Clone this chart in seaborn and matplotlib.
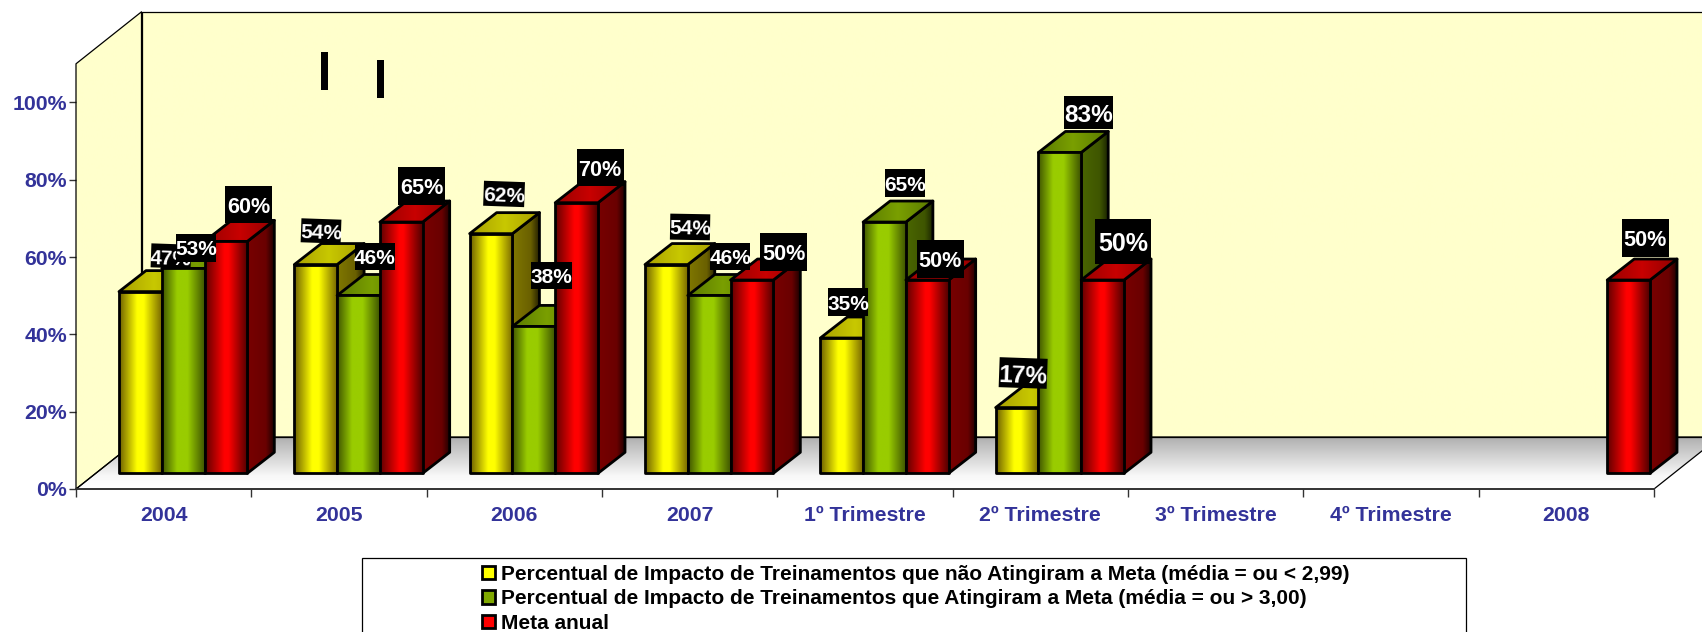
import numpy as np
import pandas as pd
import seaborn as sns
import matplotlib
matplotlib.use("Agg")
import matplotlib.pyplot as plt
from matplotlib.patches import Polygon, Rectangle, Patch
from matplotlib.transforms import Affine2D, IdentityTransform

# ---- data ----
CATEGORIES = ['2004', '2005', '2006', '2007', '1º Trimestre', '2º Trimestre',
              '3º Trimestre', '4º Trimestre', '2008']
NAO_ATINGIRAM = [47, 54, 62, 54, 35, 17, np.nan, np.nan, np.nan]
ATINGIRAM = [53, 46, 38, 46, 65, 83, np.nan, np.nan, np.nan]
META = [60, 65, 70, 50, 50, 50, np.nan, np.nan, 50]
SERIES = ['Percentual de Impacto de Treinamentos que não Atingiram a Meta (média = ou < 2,99)',
          'Percentual de Impacto de Treinamentos que Atingiram a Meta (média = ou > 3,00)',
          'Meta anual']
Y_TICKS = [0, 20, 40, 60, 80, 100]

# ---- look of the bars: (position, colour) stops across each face ----
FRONT = [[(0, '#6e6000'), (.42, '#ffff00'), (.58, '#ffff00'), (1, '#7a6a00')],
         [(0, '#3f5500'), (.35, '#99cc00'), (.6, '#99cc00'), (1, '#3f5500')],
         [(0, '#600000'), (.45, '#ff0000'), (.55, '#ff0000'), (1, '#500000')]]
TOP = [[(0, '#a8a000'), (.5, '#c8c800'), (1, '#a8a000')],
       [(0, '#5a7a00'), (.5, '#7a9f00'), (1, '#5a7a00')],
       [(0, '#980000'), (.5, '#c80000'), (1, '#900000')]]
SIDE = [[(0, '#807800'), (.7, '#6a6000'), (1, '#2a2400')],
        [(0, '#4a6600'), (.7, '#3f5500'), (1, '#1c2600')],
        [(0, '#780000'), (.7, '#6a0000'), (1, '#200000')]]
SWATCH = ['#ffff00', '#80a800', '#ff0000']

# per label: dx, dy from bar top, box w, box h, font size, rotation (in pixels)
LABEL_STYLE = [
    [(30.6, 35.6, 40, 24, 15, -2), (12.8, 20.5, 40, 28, 15, 0), (23, 36.4, 47, 37, 15.6, 0)],
    [(5.3, 33.6, 40, 24, 15, -2), (16.5, 38.5, 40, 27, 15, 0), (20.7, 36, 47, 38, 15.6, 0)],
    [(13, 39.7, 41, 25, 15, -2), (17.2, 51.4, 41, 27, 15, 0), (23.4, 34.8, 47, 37, 15.6, 0)],
    [(23.7, 37.6, 40, 26, 15, -1), (20.9, 38.5, 40, 27, 15, 0), (32, 28, 47, 38, 15.6, 0)],
    [(6.4, 36, 40, 28, 15, 0), (20.6, 39, 40, 28, 15, 0), (12.8, 21, 47, 38, 15.6, 0)],
    [(6.1, 34.6, 48, 30, 17.6, -2), (28.3, 39.5, 49, 33, 17.6, 0), (20.5, 39, 56, 45, 18, 0)],
    [], [],
    [None, None, (16.6, 42, 47, 38, 15.6, 0)],
]

W, H = 1702, 632
BLUE = '#333399'
DEPTH = (27, 21)      # bar depth
BAR_SHIFT = (19.5, 15.7)   # bars stand a bit behind the axis plane
WALL = (65.5, 52)     # chart depth


def py(y):
    # image row -> display y
    return H - y


def gradient(stops, vertical=False):
    pos = [s[0] for s in stops]
    rgb = np.array([matplotlib.colors.to_rgb(s[1]) for s in stops])
    t = np.linspace(0, 1, 64)
    arr = np.stack([np.interp(t, pos, rgb[:, k]) for k in range(3)], axis=-1)
    return arr[:, None, :] if vertical else arr[None, :, :]


def face(ax, verts, stops, z, lw=2.0, edge='black', vertical=False):
    # polygon in display pixels filled with a gradient
    verts = np.array(verts)
    poly = Polygon(verts, closed=True, transform=IdentityTransform(), fc='none', ec=edge,
                   lw=lw, clip_on=False, zorder=z + 1, joinstyle='round')
    ax.add_patch(poly)
    im = ax.imshow(gradient(stops, vertical), origin='lower', aspect='auto', interpolation='bilinear',
                   extent=(verts[:, 0].min(), verts[:, 0].max(), verts[:, 1].min(), verts[:, 1].max()),
                   transform=IdentityTransform(), zorder=z)
    im.set_clip_box(ax.figure.bbox)
    im.set_clip_path(poly)


# ---- table for seaborn ----
df = pd.DataFrame({'cat': CATEGORIES * 3,
                   'serie': np.repeat(SERIES, len(CATEGORIES)),
                   'valor': NAO_ATINGIRAM + ATINGIRAM + META})

sns.set_theme(style='white')
plt.rcParams['font.family'] = ['Liberation Sans', 'DejaVu Sans']

fig = plt.figure(figsize=(W / 100, H / 100), dpi=100, facecolor='white')
ax = fig.add_axes([76 / W, py(489) / H, (1654 - 76) / W, (489 - 63.8) / H])
ax.patch.set_visible(False)

sns.barplot(data=df, x='cat', y='valor', hue='serie', order=CATEGORIES, hue_order=SERIES,
            width=0.732, gap=0, dodge=True, legend=False, errorbar=None, ax=ax,
            palette=SWATCH, saturation=1)

ax.set_xlim(-0.5, 8.5)
ax.set_ylim(0, 110)
ax.autoscale(False)
ax.set_xlabel('')
ax.set_ylabel('')

# ---- walls and floor ----
x0, x1 = 76, 1654
y0, ytop = py(489), py(63.8)
dx, dy = WALL
face(ax, [(x0, y0), (x0, ytop), (x0 + dx, ytop + dy), (x0 + dx, y0 + dy)],
     [(0, '#ffffcc'), (1, '#ffffcc')], 0.1, lw=0.9)
face(ax, [(x0 + dx, y0 + dy), (x0 + dx, ytop + dy), (x1 + dx, ytop + dy), (x1 + dx, y0 + dy)],
     [(0, '#ffffcc'), (1, '#ffffcc')], 0.2, lw=0.9)
face(ax, [(x0, y0), (x0 + dx, y0 + dy), (x1 + dx, y0 + dy), (x1, y0)],
     [(0, '#ffffff'), (.25, '#f8f8f8'), (1, '#b0b0b0')], 0.3, lw=0.9, vertical=True)

# ---- bars: seaborn front faces shifted back, with 3d faces added ----
shift = Affine2D().translate(*BAR_SHIFT)
bars = []
for j, cont in enumerate(ax.containers):
    for rect in cont:
        if np.isnan(rect.get_height()):
            continue
        bars.append((rect.get_x(), j, rect))
bars.sort(key=lambda b: (b[0], b[1]))

tops = {}
z = 3
for _, j, rect in bars:
    to_px = ax.transData + shift
    (xl, yb), (xr, yt) = to_px.transform([(rect.get_x(), 0), (rect.get_x() + rect.get_width(), rect.get_height())])
    ddx, ddy = DEPTH
    face(ax, [(xr, yb), (xr + ddx, yb + ddy), (xr + ddx, yt + ddy), (xr, yt)], SIDE[j], z)
    face(ax, [(xl, yt), (xl + ddx, yt + ddy), (xr + ddx, yt + ddy), (xr, yt)], TOP[j], z + 2)
    face(ax, [(xl, yb), (xl, yt), (xr, yt), (xr, yb)], FRONT[j], z + 4)
    rect.set_visible(False)
    i = int(np.floor(rect.get_x() + 0.5))
    tops[(i, j)] = ((xl + xr) / 2, yt)
    z += 6

# ---- data labels ----
values = [NAO_ATINGIRAM, ATINGIRAM, META]
z = 200
for i, row in enumerate(LABEL_STYLE):
    for j, style in enumerate(row):
        if style is None:
            continue
        ldx, ldy, bw, bh, fs, rot = style
        cx, cy = tops[(i, j)]
        cx, cy = cx + ldx, cy + ldy
        box = Rectangle((cx - bw / 2, cy - bh / 2), bw, bh, fc='black', ec='none', clip_on=False, zorder=z,
                        transform=Affine2D().rotate_deg_around(cx, cy, rot))
        ax.add_patch(box)
        ax.text(cx, cy, f'{values[j][i]:.0f}%', transform=IdentityTransform(), color='white', fontsize=fs,
                fontweight='bold', ha='center', va='center_baseline', rotation=rot, zorder=z + 1, clip_on=False)
        z += 2

# ---- the two stray black marks above 2005 ----
for mx, my in [(321, 52), (377, 60)]:
    ax.add_patch(Rectangle((mx, py(my + 38)), 7, 38, fc='black', ec='none', transform=IdentityTransform(),
                           clip_on=False, zorder=150))

# ---- axes ----
for s in ['top', 'right', 'left']:
    ax.spines[s].set_visible(False)
ax.spines['bottom'].set_color('#333333')
ax.spines['bottom'].set_linewidth(1.3)
ax.set_yticks(Y_TICKS)
ax.set_yticklabels([f'{v}%' for v in Y_TICKS])
ax.set_xticks(range(len(CATEGORIES)))
ax.set_xticklabels(CATEGORIES)
ax.set_xticks(np.arange(-0.5, 9), minor=True)
ax.tick_params(axis='y', length=5.4, width=1, color='#333333', pad=1, left=True,
               labelsize=15.3, labelcolor=BLUE)
ax.tick_params(axis='x', which='major', length=0, pad=12, labelsize=15.3, labelcolor=BLUE)
ax.tick_params(axis='x', which='minor', length=5.4, width=1, color='#333333', bottom=True)
for lab in ax.get_xticklabels() + ax.get_yticklabels():
    lab.set_fontweight('bold')

# ---- legend ----
ax.add_patch(Rectangle((362, -10), 1466 - 362, py(558) + 10, fc='white', ec='black', lw=0.9,
                       transform=IdentityTransform(), clip_on=False, zorder=1))
handles = [Patch(facecolor=c, edgecolor='black', lw=2.0) for c in SWATCH]
leg = ax.legend(handles, SERIES, loc='center', bbox_to_anchor=(916 / W, py(599) / H),
                bbox_transform=fig.transFigure, frameon=False, alignment='left',
                prop={'family': 'Liberation Sans', 'weight': 'bold', 'size': 15.05},
                handlelength=0.6, handleheight=0.6, handletextpad=0.33, labelspacing=0.27,
                borderpad=0, borderaxespad=0, labelcolor='black')
leg.set_zorder(300)

fig.savefig('out.png', dpi=100)
